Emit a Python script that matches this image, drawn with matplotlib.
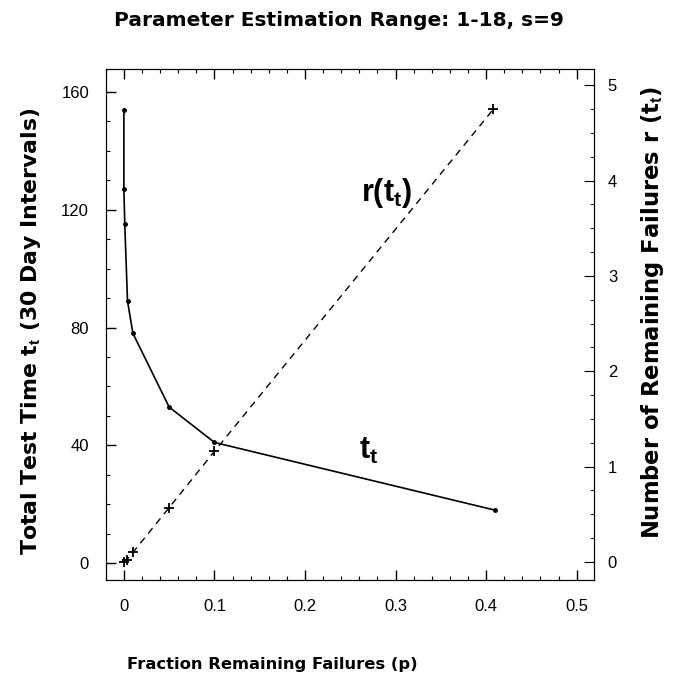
import numpy as np
import matplotlib.pyplot as plt
from matplotlib.ticker import MultipleLocator

plt.rcParams['font.family'] = ['Liberation Sans', 'DejaVu Sans']
plt.rcParams['mathtext.fontset'] = 'custom'
plt.rcParams['mathtext.bf'] = 'Liberation Sans:bold'
plt.rcParams['mathtext.rm'] = 'Liberation Sans'

# datos
p_t = [0.0, 0.0, 0.001, 0.004, 0.01, 0.05, 0.1, 0.41]
t_t = [154, 127, 115, 89, 78, 53, 41, 18]

p_r = [0.0, 0.003, 0.01, 0.05, 0.1, 0.408]
r_t = [0.0, 0.02, 0.1, 0.57, 1.16, 4.75]

x_ticks = [0, 0.1, 0.2, 0.3, 0.4, 0.5]
x_labels = ['0', '0.1', '0.2', '0.3', '0.4', '0.5']
y_ticks = [0, 40, 80, 120, 160]
r_ticks = [0, 1, 2, 3, 4, 5]

fig = plt.figure(figsize=(6.78, 6.78), dpi=100)
ax = fig.add_axes([0.156, 0.1445, 0.72, 0.7535])

ax.plot(p_t, t_t, color='black', lw=1.2, marker='o', ms=2.5)
ax.set_xlim(-0.02, 0.519)
ax.set_ylim(-5.7, 167.7)
ax.set_xticks(x_ticks)
ax.set_xticklabels(x_labels)
ax.set_yticks(y_ticks)
ax.xaxis.set_minor_locator(MultipleLocator(0.02))
ax.yaxis.set_minor_locator(MultipleLocator(10))
ax.tick_params(axis='both', which='both', direction='in', labelsize=12, top=True)
ax.tick_params(axis='both', which='major', length=7, width=1)
ax.tick_params(axis='both', which='minor', length=3, width=0.8)
ax.tick_params(axis='x', pad=14)
ax.tick_params(axis='y', pad=12)

ax2 = ax.twinx()
ax2.plot(p_r, r_t, color='black', lw=1, ls=(0, (5, 4)), marker='+', ms=7, mew=1.3)
ax2.set_ylim(-0.19, 5.17)
ax2.set_yticks(r_ticks)
ax2.yaxis.set_minor_locator(MultipleLocator(0.25))
ax2.tick_params(axis='y', which='both', direction='in', labelsize=12, pad=10)
ax2.tick_params(axis='y', which='major', length=7)
ax2.tick_params(axis='y', which='minor', length=3)

ax.text(0.29, 125.6, r'r(t$_\mathbf{t}$)', fontsize=22, fontweight='bold', ha='center', va='center')
ax.text(0.27, 38, r't$_\mathbf{t}$', fontsize=22, fontweight='bold', ha='center', va='center')

bold = ['DejaVu Sans']
fig.text(0.5, 0.97, 'Parameter Estimation Range: 1-18, s=9', fontsize=14.5,
         fontweight='bold', family=bold, ha='center', va='center')
fig.text(0.187, 0.02, 'Fraction Remaining Failures (p)', fontsize=11.8,
         fontweight='bold', family=bold, ha='left', va='center')
fig.text(0.045, 0.511, r'Total Test Time t$_\mathbf{t}$ (30 Day Intervals)', fontsize=15.8,
         fontweight='bold', family=bold, rotation=90, ha='center', va='center')
fig.text(0.962, 0.539, r'Number of Remaining Failures r (t$_\mathbf{t}$)', fontsize=16.3,
         fontweight='bold', family=bold, rotation=90, ha='center', va='center')

fig.savefig('out.png', dpi=100)
